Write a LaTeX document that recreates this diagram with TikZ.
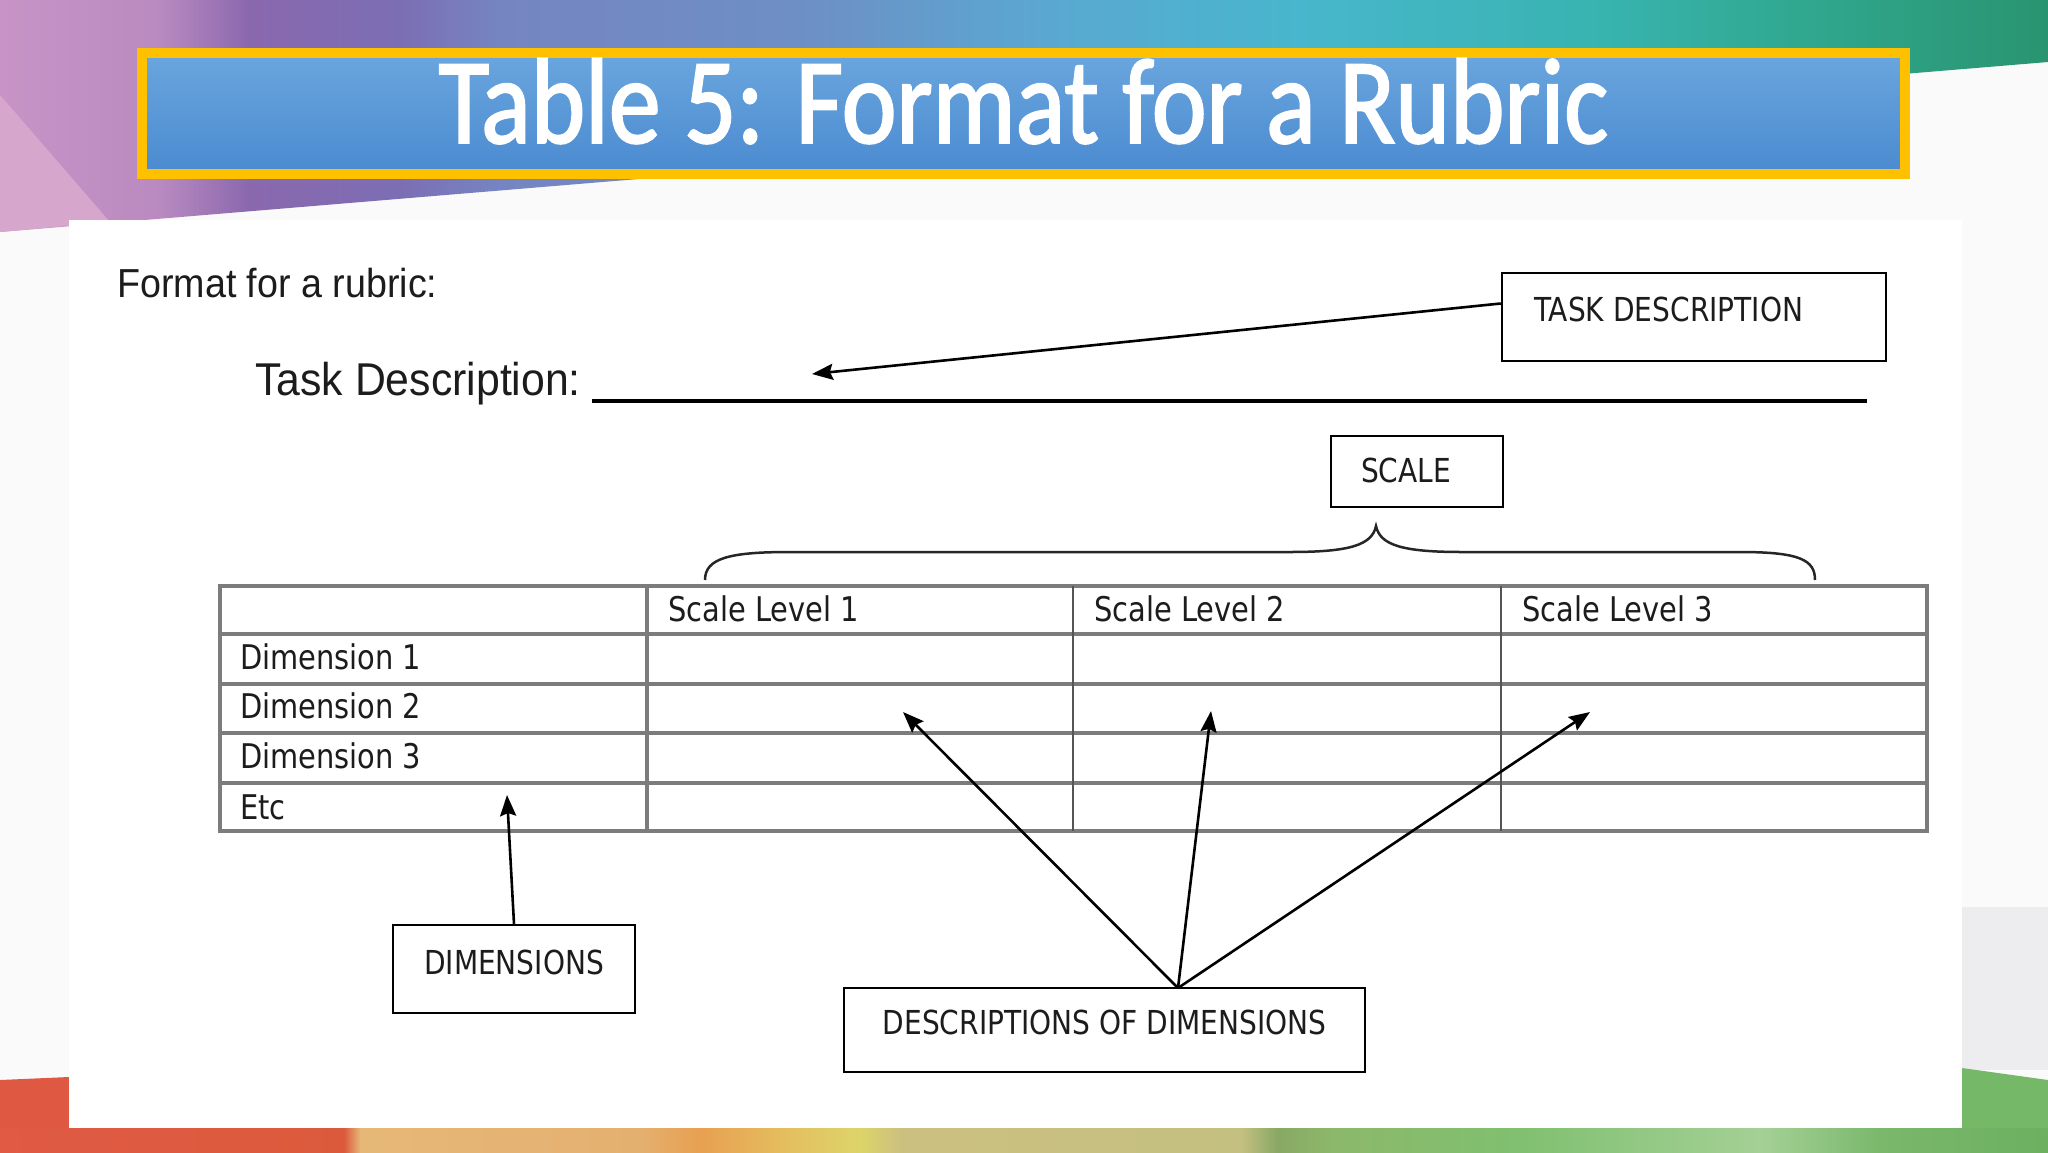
\documentclass[tikz,border=0pt]{standalone}
\usepackage{fontspec}
\usetikzlibrary{arrows.meta,calc}
\newfontfamily\titlefont[FakeStretch=0.85,FakeBold=1.6]{Carlito}
\newfontfamily\arialfont[FakeStretch=0.93]{Liberation Sans}
\newfontfamily\condfont[FakeStretch=0.85]{DejaVu Sans}
\definecolor{tA}{HTML}{C894C6}
\definecolor{tB}{HTML}{B98AC0}
\definecolor{tC}{HTML}{8A68AE}
\definecolor{tD}{HTML}{7C6EB4}
\definecolor{tE}{HTML}{7585C2}
\definecolor{tF}{HTML}{6E8FC6}
\definecolor{tG}{HTML}{5AA8D2}
\definecolor{tH}{HTML}{48B6CC}
\definecolor{tI}{HTML}{38B4B0}
\definecolor{tJ}{HTML}{30A890}
\definecolor{tK}{HTML}{2A9470}
\definecolor{bA}{HTML}{E05A44}
\definecolor{bB}{HTML}{DC5A3C}
\definecolor{bC}{HTML}{E6B878}
\definecolor{bD}{HTML}{E4B070}
\definecolor{bE}{HTML}{E8A050}
\definecolor{bF}{HTML}{E4C060}
\definecolor{bG}{HTML}{DCD468}
\definecolor{bH}{HTML}{CCC080}
\definecolor{bI}{HTML}{C4C080}
\definecolor{bJ}{HTML}{88A864}
\definecolor{bK}{HTML}{8CB86A}
\definecolor{bL}{HTML}{80C070}
\definecolor{bM}{HTML}{A4D096}
\definecolor{bN}{HTML}{7AB86C}
\definecolor{bO}{HTML}{6CB060}
\definecolor{bgwhite}{HTML}{FAFAFB}
\definecolor{pinklight}{HTML}{D6A6CC}
\definecolor{redbg}{HTML}{DE5842}
\definecolor{graybg}{HTML}{EDEDEF}
\definecolor{greenbg}{HTML}{74B868}
\definecolor{titleyellow}{HTML}{FFC000}
\definecolor{titletop}{HTML}{6AA6DE}
\definecolor{titlebot}{HTML}{4A8AD0}
\definecolor{tablegray}{HTML}{7C7C7C}
\definecolor{thingray}{HTML}{555555}
\definecolor{inktext}{HTML}{1C1C1C}
\pgfdeclarehorizontalshading{topband}{100bp}{color(0bp)=(tA); color(25bp)=(tA); color(28.9bp)=(tB); color(31.1bp)=(tC); color(34.8bp)=(tD); color(37.2bp)=(tE); color(44.5bp)=(tF); color(50.6bp)=(tG); color(56.7bp)=(tH); color(64.1bp)=(tI); color(68.9bp)=(tJ); color(75bp)=(tK); color(100bp)=(tK)}
\pgfdeclarehorizontalshading{botband}{100bp}{color(0bp)=(bA); color(25bp)=(bA); color(33.4bp)=(bB); color(33.8bp)=(bC); color(40.6bp)=(bD); color(42.1bp)=(bE); color(44.3bp)=(bF); color(46bp)=(bG); color(47bp)=(bH); color(55.3bp)=(bI); color(56.2bp)=(bJ); color(57.5bp)=(bK); color(62.1bp)=(bL); color(68bp)=(bM); color(70.9bp)=(bN); color(75bp)=(bO); color(100bp)=(bO)}
\tikzset{
  titlebox/.style={draw=titleyellow, line width=10pt, top color=titletop, bottom color=titlebot,
    minimum width=1763pt, minimum height=121pt, inner sep=0pt, text=white,
    font=\titlefont\fontsize{122}{122}\selectfont, text height=78pt, text depth=19pt},
  plaintext/.style={inner sep=0pt, anchor=base west, text=inktext},
  lbox/.style={draw=black, line width=2.5pt, fill=white, inner ysep=0pt, text=inktext,
    font=\condfont\fontsize{33}{33}\selectfont, text height=24pt},
  celltext/.style={inner sep=0pt, anchor=base west, text=inktext, font=\condfont\fontsize{34}{34}\selectfont},
  tline/.style={draw=tablegray, line width=3.5pt},
  thinline/.style={draw=thingray, line width=1.8pt},
  arr/.style={draw=black, line width=2.6pt, -{Stealth[length=21pt,width=16pt,inset=3pt]}},
  bracestyle/.style={draw=black!85, line width=2.5pt}
}
\begin{document}
\begin{tikzpicture}[x=1pt,y=-1pt]
\useasboundingbox (0,0) rectangle (2048,1152);
% background
\fill[bgwhite] (0,0) rectangle (2048,1152);
\shade[shading=topband] (0,0) -- (2048,0) -- (2048,62) -- (0,232) -- cycle;
\fill[pinklight] (0,95) -- (110,222) -- (0,232) -- cycle;
\shade[shading=botband] (0,1128) rectangle (2048,1152);
\fill[redbg] (0,1080) -- (69,1077) -- (69,1128) -- (0,1128) -- cycle;
\fill[graybg] (1962,907) rectangle (2048,1070);
\fill[greenbg] (1962,1068) -- (2048,1080) -- (2048,1128) -- (1962,1128) -- cycle;
\fill[white] (69,220) rectangle (1962,1128);
% title
\node[titlebox] (title) at (1023.5,113.5) {Table 5: Format for a Rubric};
% texts
\node[plaintext, font=\arialfont\fontsize{40.5}{40.5}\selectfont] (fmt) at (117,297) {Format for a rubric:};
\node[plaintext, font=\arialfont\fontsize{46}{46}\selectfont] (tdlabel) at (255,395) {Task Description:};
\coordinate (ulA) at (592,401);
\coordinate (ulB) at (1867,401);
\draw[black, line width=3.2pt] (ulA) -- (ulB);
% label boxes
\node[lbox, minimum width=384pt, minimum height=88pt, inner xsep=32pt, text depth=16pt] (task) at (1694,317) {\makebox[320pt][l]{TASK DESCRIPTION}};
\node[lbox, minimum width=172pt, minimum height=71pt, inner xsep=30pt, text depth=2pt] (scale) at (1417,471.5) {\makebox[112pt][l]{SCALE}};
\node[lbox, minimum width=242pt, minimum height=88pt, inner xsep=10pt, text depth=14pt] (dim) at (514,969) {DIMENSIONS};
\node[lbox, minimum width=521pt, minimum height=84pt, inner xsep=10pt, text depth=16pt] (desc) at (1104.5,1030) {DESCRIPTIONS OF DIMENSIONS};
% brace over the scale columns
\draw[bracestyle] (705,580) .. controls (705,558) and (730,552) .. (790,552) -- (1290,552)
  .. controls (1350,552) and (1372,545) .. (1376,526)
  .. controls (1380,545) and (1402,552) .. (1462,552) -- (1740,552)
  .. controls (1800,552) and (1815,560) .. (1815,580);
% table
\draw[tline] (220,586) rectangle (1927,831);
\foreach \yy in {634,684,733,783} { \draw[tline] (220,\yy) -- (1927,\yy); }
\draw[tline] (647,586) -- (647,831);
\draw[thinline] (1073,586) -- (1073,831);
\draw[thinline] (1501,586) -- (1501,831);
\node[celltext] (h1) at (668,621) {Scale Level 1};
\node[celltext] (h2) at (1094,621) {Scale Level 2};
\node[celltext] (h3) at (1522,621) {Scale Level 3};
\node[celltext] (r1) at (240,669) {Dimension 1};
\node[celltext] (r2) at (240,718) {Dimension 2};
\node[celltext] (r3) at (240,768) {Dimension 3};
\node[celltext] (r4) at (240,819) {Etc};
% arrows
\coordinate (ttask) at (812,374);
\coordinate (tdim) at (507,795);
\coordinate (dsrc) at (1178,988);
\coordinate (tone) at (903,712);
\coordinate (ttwo) at (1211,711);
\coordinate (tthree) at (1590,712);
\draw[arr] (task.176) -- (ttask);
\draw[arr] (dim.north) -- (tdim);
\draw[arr] (dsrc) -- (tone);
\draw[arr] (dsrc) -- (ttwo);
\draw[arr] (dsrc) -- (tthree);
\end{tikzpicture}
\end{document}
